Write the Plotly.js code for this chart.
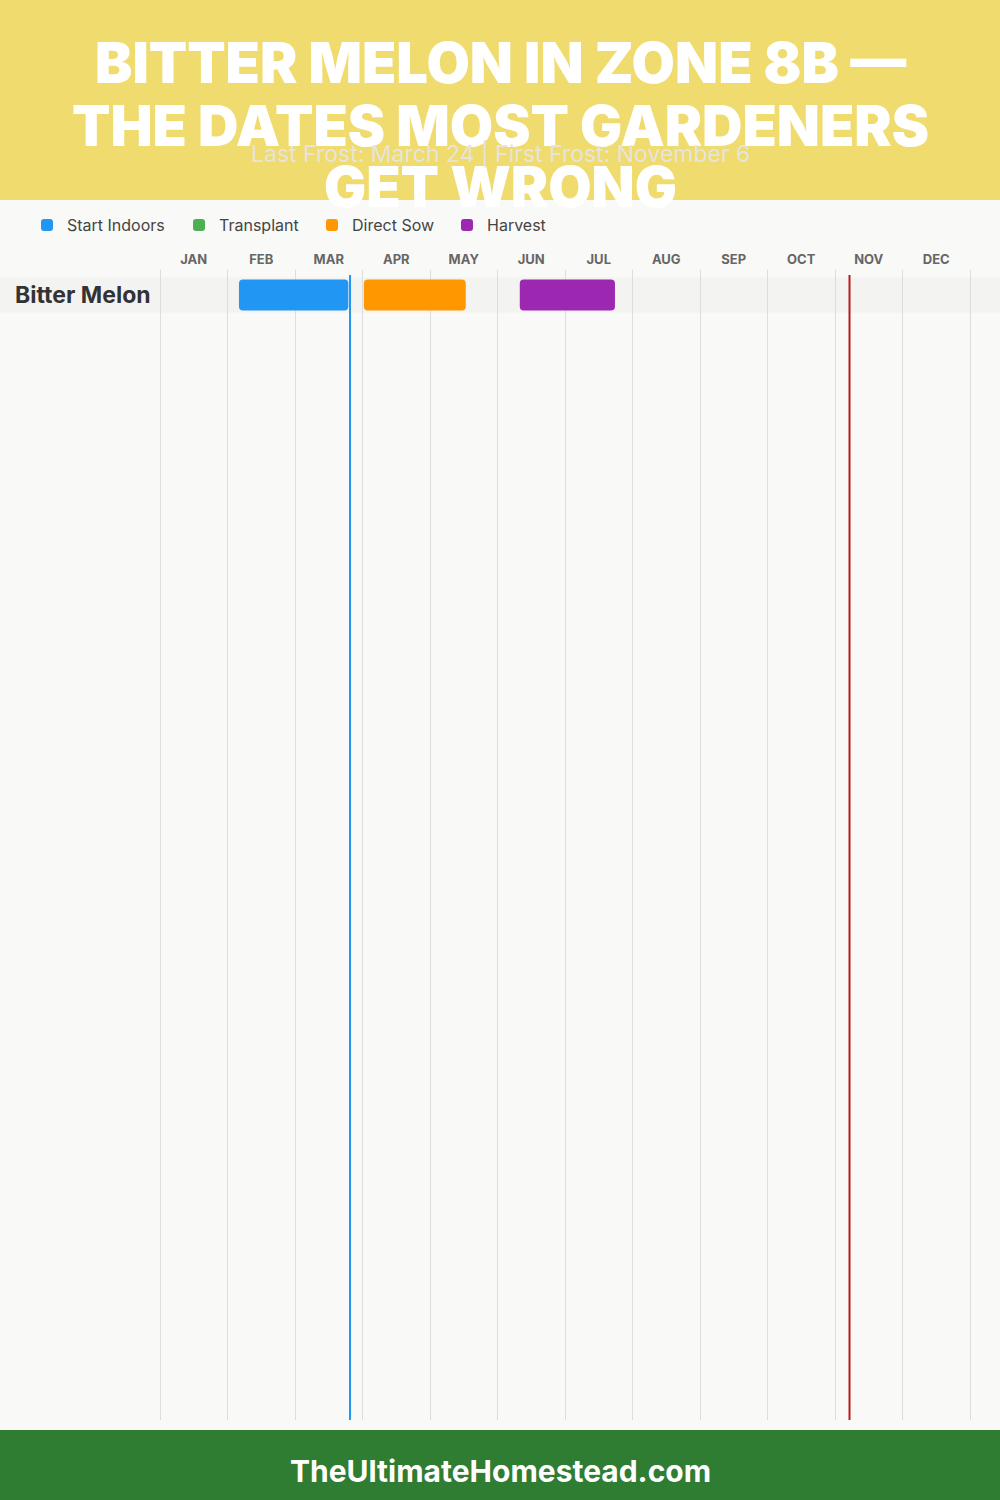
<!DOCTYPE html>
<html>
<head>
<meta charset="utf-8">
<script src="https://cdn.plot.ly/plotly-3.0.1.min.js"></script>
<style>html,body{margin:0;padding:0;background:#f9f9f7;}#chart{width:1000px;height:1500px;}</style>
</head>
<body>
<div id="chart"></div>
<script>
// ---- data (month units: 0 = Jan 1, 12 = Dec 31) ----
const months = ['JAN','FEB','MAR','APR','MAY','JUN','JUL','AUG','SEP','OCT','NOV','DEC'];
const crops = ['Bitter Melon'];
const phaseNames = ['Start Indoors','Transplant','Direct Sow','Harvest'];
const startIndoorsStart = [1.17];
const startIndoorsEnd   = [2.79];
const transplantStart   = [null];   // no transplant window for this crop
const transplantEnd     = [null];
const directSowStart    = [3.02];
const directSowEnd      = [4.53];
const harvestStart      = [5.33];
const harvestEnd        = [6.74];
const lastFrost  = 2.815;   // March 24
const firstFrost = 10.215;  // November 6
const titleLines = ['BITTER MELON IN ZONE 8B —', 'THE DATES MOST GARDENERS', 'GET WRONG'];
const subtitle = 'Last Frost: March 24 | First Frost: November 6';
const footer = 'TheUltimateHomestead.com';

// ---- styles ----
const phaseColors = ['#2196F3','#4CAF50','#FF9800','#9C27B0'];
const legendWidths = [107, 88, 90, 90];
const W = 1000, H = 1500;
const FONT = 'Inter, "Open Sans", sans-serif';
const py = px => 1 - px / H;

const starts = [startIndoorsStart, transplantStart, directSowStart, harvestStart];
const ends   = [startIndoorsEnd, transplantEnd, directSowEnd, harvestEnd];

const traces = phaseNames.map((name, k) => ({
  type: 'bar',
  orientation: 'h',
  name: name,
  y: starts[k].map((_, i) => crops[i]),
  base: starts[k],
  x: starts[k].map((s, i) => (s == null ? null : ends[k][i] - s)),
  width: 0.873,
  marker: {color: phaseColors[k], cornerradius: 4},
  legendwidth: legendWidths[k],
  hoverinfo: 'name',
  showlegend: true
}));

const shapes = [
  {type:'rect', xref:'paper', yref:'paper', x0:0, x1:1, y0:py(200), y1:1, fillcolor:'#f0db6e', line:{width:0}, layer:'below'},
  {type:'rect', xref:'paper', yref:'paper', x0:0, x1:1, y0:0, y1:py(1430), fillcolor:'#2e7d32', line:{width:0}, layer:'below'}
];
crops.forEach((c, i) => {
  shapes.push({type:'rect', xref:'paper', yref:'y', x0:0, x1:1, y0:i-0.5, y1:i+0.5, fillcolor:'#f3f3f2', line:{width:0}, layer:'between'});
});
shapes.push({type:'line', xref:'x', yref:'y', x0:lastFrost, x1:lastFrost, y0:-0.563, y1:31.69, line:{color:'#2196F3', width:2}, layer:'above'});
shapes.push({type:'line', xref:'x', yref:'y', x0:firstFrost, x1:firstFrost, y0:-0.563, y1:31.69, line:{color:'#b71c1c', width:2}, layer:'above'});

const titleY = [63, 126, 187];
const annotations = titleLines.map((t, i) => ({
  text: t, xref:'paper', yref:'paper', x:0.5, y:py(titleY[i]), xanchor:'center', yanchor:'middle', showarrow:false,
  font:{family:FONT, size:56, color:'#ffffff', weight:900}
}));
annotations.push({text: subtitle, xref:'paper', yref:'paper', x:0.5, y:py(154), xanchor:'center', yanchor:'middle', showarrow:false,
  font:{family:FONT, size:23, color:'#e6e4dc'}});
annotations.push({text: footer, xref:'paper', yref:'paper', x:0.5, y:py(1471), xanchor:'center', yanchor:'middle', showarrow:false,
  font:{family:FONT, size:30, color:'#ffffff', weight:700}});
crops.forEach((c) => {
  annotations.push({text: c, xref:'paper', yref:'y', x:0.013, y:c, xanchor:'left', yanchor:'middle', showarrow:false,
    font:{family:FONT, size:23, color:'#333333', weight:700}});
});

// x axis: 0 at px 160, 12 at px 970 (67.5 px per month); range padded slightly so edge gridlines show
const pad = 0.03;
const unit = 67.5;
const layout = {
  width: W, height: H,
  margin: {l:0, r:0, t:0, b:0, pad:0},
  paper_bgcolor: '#f9f9f7',
  plot_bgcolor: 'rgba(0,0,0,0)',
  barmode: 'overlay',
  showlegend: true,
  legend: {orientation:'h', x:0.027, xanchor:'left', y:py(225), yanchor:'middle',
    font:{family:FONT, size:16, color:'#444444'}, bgcolor:'rgba(0,0,0,0)', traceorder:'normal'},
  xaxis: {
    domain: [(160 - pad*unit)/W, (970 + pad*unit)/W], range: [-pad, 12 + pad], side: 'top',
    tickmode: 'array', tickvals: months.map((_, i) => i + 0.5), ticktext: months,
    tickfont: {family:FONT, size:13, color:'#666666', weight:700},
    ticklabelstandoff: 2,
    showgrid: false, zeroline: false, showline: false, ticks: '',
    minor: {tick0: 0, dtick: 1, showgrid: true, gridcolor: '#dddddd', gridwidth: 1, ticks: ''},
    fixedrange: true
  },
  yaxis: {
    domain: [py(1420), py(270)], type: 'category', categoryarray: crops,
    range: [31.69, -0.704], showticklabels: false, showgrid: false, zeroline: false, showline: false, ticks: '',
    fixedrange: true
  },
  shapes: shapes,
  annotations: annotations
};

Plotly.newPlot('chart', traces, layout, {displayModeBar: false, staticPlot: true});
</script>
</body>
</html>
